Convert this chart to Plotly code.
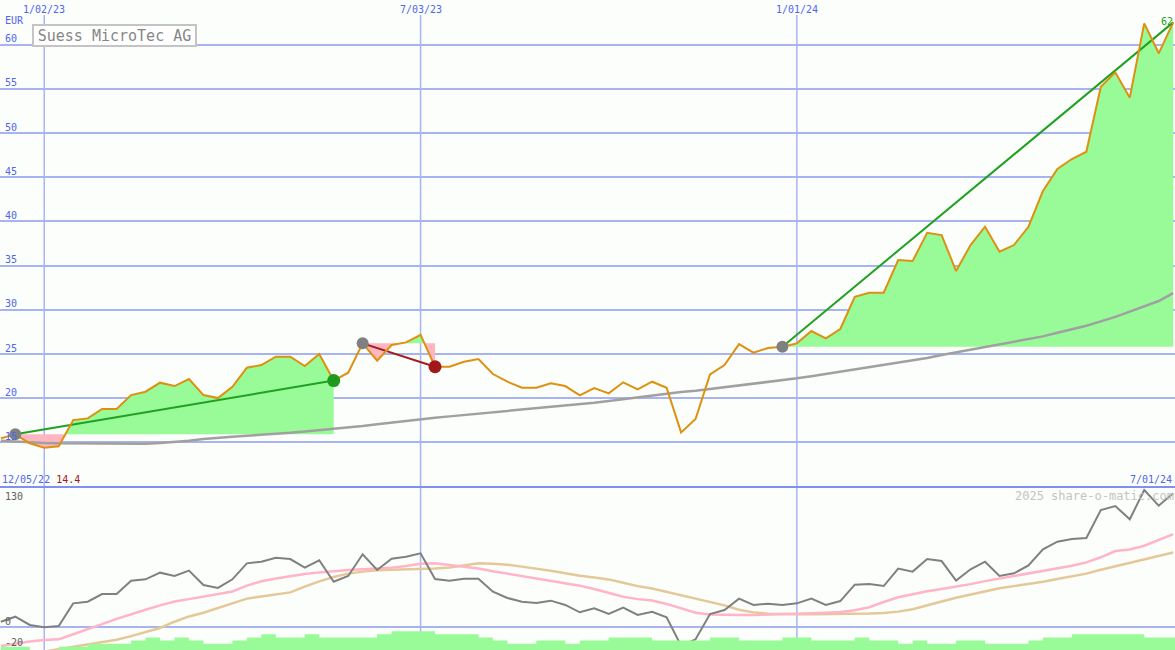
import numpy as np
import pandas as pd
import plotly.graph_objects as go

# ---------------- data ----------------
dates = pd.date_range("2022-12-12", periods=82, freq="7D")

price = [15.46, 15.92, 14.90, 14.40, 14.56, 17.53, 17.72, 18.78, 18.78, 20.36,
         20.74, 21.76, 21.38, 22.17, 20.36, 20.02, 21.30, 23.45, 23.76, 24.70,
         24.70, 23.64, 25.00, 22.00, 22.89, 26.21, 24.24, 26.02, 26.32, 27.18,
         23.56, 23.56, 24.13, 24.43, 22.74, 21.87, 21.19, 21.19, 21.68, 21.38,
         20.33, 21.15, 20.55, 21.80, 21.01, 21.87, 21.19, 16.14, 17.65, 22.70,
         23.76, 26.13, 25.15, 25.68, 25.83, 26.21, 27.60, 26.77, 27.83, 31.48,
         31.94, 31.94, 35.63, 35.52, 38.72, 38.46, 34.39, 37.33, 39.40, 36.57,
         37.33, 39.40, 43.44, 45.93, 47.06, 47.89, 55.24, 56.87, 54.00, 62.41,
         59.02, 62.52]

ma_long = [15.2, 15.1, 15.0, 14.95, 14.9, 14.9, 14.85, 14.85, 14.85, 14.85,
           14.85, 14.95, 15.05, 15.2, 15.4, 15.55, 15.65, 15.75, 15.85, 15.95,
           16.1, 16.25, 16.4, 16.5, 16.7, 16.85, 17.05, 17.25, 17.45, 17.65,
           17.8, 17.95, 18.1, 18.3, 18.45, 18.6, 18.7, 18.85, 19.0, 19.15,
           19.35, 19.5, 19.7, 19.9, 20.1, 20.3, 20.55, 20.7, 20.85, 21.05,
           21.25, 21.45, 21.65, 21.85, 22.0, 22.25, 22.5, 22.75, 23.0, 23.25,
           23.5, 23.75, 24.0, 24.25, 24.55, 24.9, 25.2, 25.5, 25.85, 26.1,
           26.4, 26.7, 27.0, 27.4, 27.8, 28.2, 28.7, 29.2, 29.8, 30.4,
           31.0, 31.9]

osc = [5.5, 10.7, 2.1, -0.3, 1.0, 24.6, 26.3, 34.3, 34.3, 48.2,
       49.6, 56.5, 53.0, 58.6, 43.7, 40.6, 49.6, 66.2, 67.9, 72.1,
       70.7, 61.7, 69.4, 47.1, 53.0, 75.6, 59.3, 71.0, 73.1, 76.6,
       49.9, 48.2, 50.2, 50.2, 36.7, 30.2, 26.3, 25.0, 27.4, 22.9,
       15.3, 19.4, 13.5, 20.1, 12.5, 15.9, 10.1, -19.4, -12.8, 13.5,
       17.7, 29.5, 22.9, 24.3, 22.9, 24.6, 29.5, 22.9, 27.0, 44.0,
       44.7, 42.6, 60.7, 57.6, 70.7, 68.6, 48.2, 60.0, 67.9, 53.0,
       55.8, 64.1, 80.8, 88.7, 91.5, 92.6, 121.7, 125.8, 112.0, 142.5,
       126.2, 139.1]

osc_fast = [-19.7, -17, -15, -13.6, -12.8, -7.5, -2.5, 3, 8.5, 13.5,
            18, 22.5, 26.5, 29, 31.5, 34, 37, 43, 47.5, 50.5,
            53, 55.2, 56.8, 58.3, 59.3, 60.1, 60.8, 61.6, 63.4, 65.8,
            66.2, 64.5, 62.8, 60.8, 58, 55.5, 53.4, 51, 48.4, 45.6,
            43, 39.5, 35.5, 31.5, 29, 27.5, 24, 19, 14.8, 13,
            12.5, 12.5, 12.5, 12.8, 13.4, 13.8, 14.2, 14.8, 15.5, 17.5,
            20.5, 26, 31, 34, 37.2, 39.6, 41.8, 44.6, 47.7, 50.3,
            53, 55.7, 58.3, 60.8, 63.8, 67.2, 72.5, 79, 80.6, 84.5,
            90.5, 96.5]

osc_slow = [-33, -30, -28, -25.5, -23.5, -21, -18.5, -15.5, -13.2, -9.5,
            -5, -1, 5.5, 11, 14.8, 19.5, 24.5, 29.5, 31.8, 34,
            36, 42, 47.5, 52, 55.5, 57.6, 59, 59.6, 59.9, 60.2,
            60.8, 61.8, 64, 66.2, 65.8, 64.8, 62.8, 61, 58.5, 56,
            53.2, 51.5, 49.5, 46, 42.5, 40, 36.5, 33, 28.8, 26,
            22.5, 18, 15.2, 13.8, 13.3, 13.2, 13.2, 13.3, 13.5, 13.6,
            14, 14.6, 16, 18.5, 22.2, 26.5, 30.5, 34, 37, 40.3,
            42.5, 44.5, 47, 50, 52.6, 55.5, 59.5, 63, 66.5, 69.8,
            73.5, 77.5]

volume = [1, 1, 0, 0, 1, 1, 2, 2, 2, 3,
          4, 3, 4, 3, 2, 2, 3, 4, 5, 4,
          4, 5, 4, 4, 4, 4, 5, 6, 6, 6,
          5, 5, 5, 4, 3, 2, 2, 3, 3, 2,
          3, 3, 4, 4, 4, 3, 3, 3, 3, 4,
          4, 3, 3, 3, 4, 4, 3, 3, 3, 4,
          3, 3, 2, 3, 2, 2, 3, 3, 2, 2,
          2, 3, 4, 4, 5, 5, 5, 5, 5, 4,
          4, 4]

# trends: start index, end index, line colour
trend_start = [1, 25, 54]
trend_end = [23, 30, 81]
trend_color = ["#22a022", "#a01c1c", "#22a022"]

price_ticks = [15, 20, 25, 30, 35, 40, 45, 50, 55, 60]
osc_ticks = [130, 0, -20]
date_ticks = ["2023-01-02", "2023-07-03", "2024-01-01"]
date_tick_text = ["1/02/23", "7/03/23", "1/01/24"]

title = "Suess MicroTec AG"
low_text = "14.4"
first_date_text = "12/05/22"
last_date_text = "7/01/24"
last_price_text = "62"

assert all(len(a) == 82 for a in [price, ma_long, osc, osc_fast, osc_slow, volume])

# ---------------- style ----------------
BG = "#fbfefb"
GRID = "#a8b4f0"
SEP = "#8090f0"
BLUE_TXT = "#4f66ee"
MONO = "DejaVu Sans Mono"
X_RANGE = ["2022-12-11 14:30", "2024-07-01 21:00"]
Y_TOP = [9.96, 65.05]
Y_BOT = [-23.92, 145.6]
SPLIT = 163 / 650

fig = go.Figure()

# ---------- trend fills ----------
ts = np.array([d.value for d in dates], dtype=float)
for s, e in zip(trend_start, trend_end):
    base = price[s]
    xs, vs = [ts[s]], [price[s]]
    for j in range(s, e):
        a, b = price[j] - base, price[j + 1] - base
        if a * b < 0:
            f = -a / (b - a)
            xs.append(ts[j] + f * (ts[j + 1] - ts[j]))
            vs.append(base)
        xs.append(ts[j + 1])
        vs.append(price[j + 1])
    xd = pd.to_datetime(np.array(xs, dtype="int64"))
    up = [max(v, base) for v in vs]
    dn = [min(v, base) for v in vs]
    for arr, col in [(up, "#98fb98"), (dn, "#ffb6c1")]:
        fig.add_trace(go.Scatter(x=xd, y=[base] * len(xd), mode="lines",
                                 line=dict(width=0, color="rgba(0,0,0,0)"),
                                 hoverinfo="skip", xaxis="x", yaxis="y"))
        fig.add_trace(go.Scatter(x=xd, y=arr, mode="lines", fill="tonexty",
                                 fillcolor=col,
                                 line=dict(width=0, color="rgba(0,0,0,0)"),
                                 hoverinfo="skip", xaxis="x", yaxis="y"))

# long moving average
fig.add_trace(go.Scatter(x=dates, y=ma_long, mode="lines",
                         line=dict(color="#a0a0a0", width=2.5),
                         xaxis="x", yaxis="y"))

# trend lines
for s, e, c in zip(trend_start, trend_end, trend_color):
    fig.add_trace(go.Scatter(x=[dates[s], dates[e]], y=[price[s], price[e]],
                             mode="lines", line=dict(color=c, width=2),
                             xaxis="x", yaxis="y"))

# price line
fig.add_trace(go.Scatter(x=dates, y=price, mode="lines",
                         line=dict(color="#de9010", width=2),
                         xaxis="x", yaxis="y"))

# start dots (gray)
fig.add_trace(go.Scatter(x=[dates[s] for s in trend_start],
                         y=[price[s] for s in trend_start], mode="markers",
                         marker=dict(color="#808080", size=12),
                         xaxis="x", yaxis="y"))
# end dots (first two trends)
fig.add_trace(go.Scatter(x=[dates[trend_end[0]], dates[trend_end[1]]],
                         y=[price[trend_end[0]], price[trend_end[1]]],
                         mode="markers",
                         marker=dict(color=["#1f9a1f", "#a01818"], size=13),
                         xaxis="x", yaxis="y"))

# ---------- bottom panel ----------
vol_x = list(dates) + [dates[-1] + pd.Timedelta(days=7)]
vol_y = volume + [volume[-1]]
fig.add_trace(go.Scatter(x=vol_x, y=vol_y, mode="lines", line_shape="hv",
                         fill="tozeroy", fillcolor="#98fb98",
                         line=dict(width=0, color="rgba(0,0,0,0)"),
                         xaxis="x2", yaxis="y3"))
fig.add_trace(go.Scatter(x=dates, y=osc_slow, mode="lines",
                         line=dict(color="#e4c898", width=2.5),
                         xaxis="x2", yaxis="y2"))
fig.add_trace(go.Scatter(x=dates, y=osc_fast, mode="lines",
                         line=dict(color="#ffb4c8", width=2.5),
                         xaxis="x2", yaxis="y2"))
fig.add_trace(go.Scatter(x=dates, y=osc, mode="lines",
                         line=dict(color="#808080", width=2),
                         xaxis="x2", yaxis="y2"))

# ---------- shapes ----------
shapes = []
for d in date_ticks:
    shapes.append(dict(type="line", xref="x", yref="paper", x0=d, x1=d,
                       y0=0, y1=(650 - 15) / 650, layer="below",
                       line=dict(color=GRID, width=1.5)))
shapes.append(dict(type="line", xref="paper", yref="paper", x0=0, x1=1,
                   y0=SPLIT, y1=SPLIT, layer="below",
                   line=dict(color=SEP, width=2)))

# ---------- annotations ----------
ann = []
for v in price_ticks:
    ann.append(dict(xref="paper", yref="y", x=0, y=v, xanchor="left",
                    yanchor="middle", xshift=3, yshift=6, showarrow=False,
                    text=str(v), font=dict(family=MONO, size=10, color=BLUE_TXT)))
ann.append(dict(xref="paper", yref="y", x=0, y=price_ticks[-1], xanchor="left",
                yanchor="middle", xshift=3, yshift=24, showarrow=False,
                text="EUR", font=dict(family=MONO, size=10, color=BLUE_TXT)))
for d, t in zip(date_ticks, date_tick_text):
    ann.append(dict(xref="x", yref="paper", x=d, y=1, xanchor="center",
                    yanchor="middle", yshift=-9, showarrow=False, text=t,
                    font=dict(family=MONO, size=10, color=BLUE_TXT)))
for v in osc_ticks:
    ann.append(dict(xref="paper", yref="y2", x=0, y=v, xanchor="left",
                    yanchor="middle", xshift=3, yshift=6 if v != -20 else 4,
                    showarrow=False, text=str(v),
                    font=dict(family=MONO, size=10, color="#606060")))
ann.append(dict(xref="paper", yref="paper", x=0, y=(650 - 479) / 650,
                xanchor="left", yanchor="middle", xshift=0, showarrow=False,
                text=first_date_text + " <span style='color:#a01818'>" + low_text + "</span>",
                font=dict(family=MONO, size=10, color=BLUE_TXT)))
ann.append(dict(xref="paper", yref="paper", x=1, y=(650 - 479) / 650,
                xanchor="right", yanchor="middle", xshift=-1, showarrow=False,
                text=last_date_text,
                font=dict(family=MONO, size=10, color=BLUE_TXT)))
ann.append(dict(xref="paper", yref="paper", x=1, y=(650 - 496) / 650,
                xanchor="right", yanchor="middle", xshift=1, showarrow=False,
                text="2025 share-o-matic.com",
                font=dict(family=MONO, size=12, color="#c4c4c4")))
ann.append(dict(xref="paper", yref="y", x=1, y=price[-1], xanchor="right",
                yanchor="middle", xshift=0, yshift=1, showarrow=False,
                text=last_price_text,
                font=dict(family=MONO, size=10, color="#22a022")))
ann.append(dict(xref="paper", yref="paper", x=32 / 1175, y=(650 - 36) / 650,
                xanchor="left", yanchor="middle", showarrow=False, text=title,
                bgcolor="white", bordercolor="#c4c4c4", borderwidth=2,
                borderpad=1, width=159, height=17,
                font=dict(family=MONO, size=15, color="#868686")))

axis_common = dict(showticklabels=False, ticks="", showline=False,
                   zeroline=False)
fig.update_layout(
    width=1175, height=650,
    margin=dict(l=0, r=0, t=0, b=0),
    paper_bgcolor=BG, plot_bgcolor=BG,
    showlegend=False, hovermode=False,
    xaxis=dict(domain=[0, 1], anchor="y", range=X_RANGE, type="date",
               showgrid=False, **axis_common),
    xaxis2=dict(domain=[0, 1], anchor="y2", range=X_RANGE, type="date",
                matches="x", showgrid=False, **axis_common),
    yaxis=dict(domain=[SPLIT, 1], anchor="x", range=Y_TOP,
               tickvals=price_ticks, showgrid=True, gridcolor=GRID,
               gridwidth=2, **axis_common),
    yaxis2=dict(domain=[0, SPLIT], anchor="x2", range=Y_BOT,
                tickvals=[0], showgrid=True, gridcolor=GRID, gridwidth=2,
                **axis_common),
    yaxis3=dict(overlaying="y2", anchor="x2", range=[0, 51.9],
                showgrid=False, **axis_common),
    shapes=shapes,
    annotations=ann,
)

fig.write_html(
    "out.html",
    config={"displayModeBar": False},
    post_script="document.body.style.margin='0px';document.body.style.padding='0px';"
                "document.body.style.overflow='hidden';",
)
